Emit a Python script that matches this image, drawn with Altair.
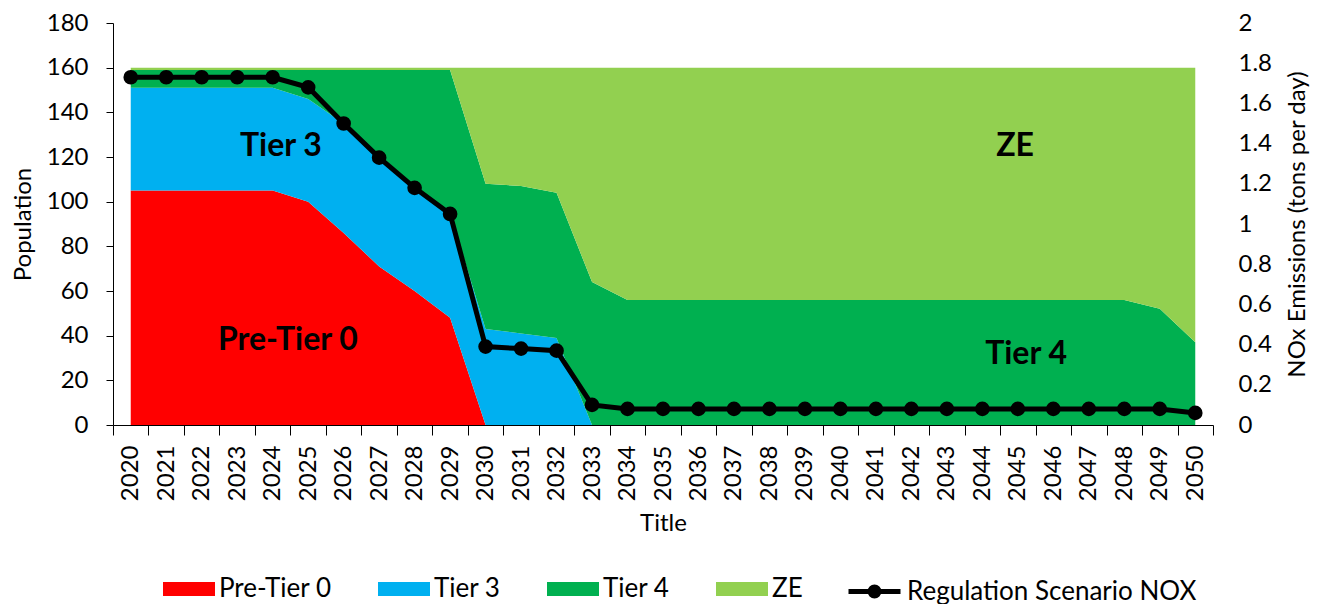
import altair as alt
import pandas as pd

years = [str(y) for y in range(2020, 2051)]

pre_tier0 = [105, 105, 105, 105, 105, 100, 86, 71, 60, 48,
             0, 0, 0, 0, 0, 0, 0, 0, 0, 0,
             0, 0, 0, 0, 0, 0, 0, 0, 0, 0, 0]
tier3 = [46, 46, 46, 46, 46, 46, 49, 50, 47, 47,
         43, 41, 39, 0, 0, 0, 0, 0, 0, 0,
         0, 0, 0, 0, 0, 0, 0, 0, 0, 0, 0]
tier4 = [8, 8, 8, 8, 8, 13, 24, 38, 52, 64,
         65, 66, 65, 64, 56, 56, 56, 56, 56, 56,
         56, 56, 56, 56, 56, 56, 56, 56, 56, 52, 37]
ze = [1, 1, 1, 1, 1, 1, 1, 1, 1, 1,
      52, 53, 56, 96, 104, 104, 104, 104, 104, 104,
      104, 104, 104, 104, 104, 104, 104, 104, 104, 108, 123]
nox = [1.73, 1.73, 1.73, 1.73, 1.73, 1.68, 1.50, 1.33, 1.18, 1.05,
       0.39, 0.38, 0.37, 0.10, 0.08, 0.08, 0.08, 0.08, 0.08, 0.08,
       0.08, 0.08, 0.08, 0.08, 0.08, 0.08, 0.08, 0.08, 0.08, 0.08, 0.06]

series_names = ["Pre-Tier 0", "Tier 3", "Tier 4", "ZE"]
area_colors = ["#FF0000", "#00B0F0", "#00B050", "#92D050"]
line_name = "Regulation Scenario NOX"

label_text = ["Tier 3", "Pre-Tier 0", "ZE", "Tier 4"]
label_year = ["2024", "2024", "2045", "2045"]
label_value = [125, 38, 125, 32]
label_shift = [26, 33, 15, 26]

FONT = "Lato"
FS = 24
LFS = 26

rows = []
for i, (name, vals) in enumerate(zip(series_names, [pre_tier0, tier3, tier4, ze])):
    for yr, v in zip(years, vals):
        rows.append({"year": yr, "series": name, "value": v, "ord": i})
area_df = pd.DataFrame(rows)
line_df = pd.DataFrame({"year": years, "series": line_name, "nox": nox})
lab_df = pd.DataFrame({"year": label_year, "value": label_value, "text": label_text, "shift": label_shift})

RECT = "M-1,-0.27H1V0.27H-1Z"
LINE = "M-1,0H1M-0.17,0A0.17,0.17,0,1,1,0.17,0A0.17,0.17,0,1,1,-0.17,0Z"

x_enc = alt.X(
    "year:O",
    scale=alt.Scale(type="band", paddingInner=0, paddingOuter=0),
    bandPosition=0.5,
    axis=alt.Axis(
        title="Title", tickBand="extent", labelAngle=-90, tickSize=10,
        labelPadding=10, titlePadding=11, domainColor="#000", tickColor="#000",
        labelFontSize=FS, titleFontSize=FS, titleFontWeight="normal",
        labelColor="#000", titleColor="#000", grid=False,
    ),
)

area = alt.Chart(area_df).mark_area(opacity=1).encode(
    x=x_enc,
    y=alt.Y(
        "value:Q", stack="zero",
        scale=alt.Scale(domain=[0, 180], nice=False),
        axis=alt.Axis(
            title="Population", values=list(range(0, 181, 20)), grid=False,
            domainColor="#000", tickColor="#000", tickSize=7, labelPadding=18,
            labelFontSize=FS, titleFontSize=FS, titleFontWeight="normal",
            labelColor="#000", titleColor="#000", titlePadding=11,
        ),
    ),
    color=alt.Color(
        "series:N",
        scale=alt.Scale(domain=series_names, range=area_colors),
        legend=alt.Legend(
            title=None, orient="none", legendX=50, legendY=540,
            direction="horizontal", columns=4, columnPadding=46,
            symbolType=RECT, symbolSize=2704, symbolStrokeWidth=0,
            labelFontSize=LFS, labelFont=FONT, labelColor="#000",
            labelOffset=4, padding=0, labelLimit=500,
        ),
    ),
    order=alt.Order("ord:Q", sort="ascending"),
)

labels = alt.Chart(lab_df).mark_text(
    font=FONT, fontSize=32, fontWeight="bold", color="#000", baseline="middle", align="center"
).encode(
    x=alt.X("year:O"),
    y=alt.Y("value:Q"),
    xOffset=alt.XOffset("shift:Q", scale=None),
    text="text:N",
)

line = alt.Chart(line_df).mark_line(
    strokeWidth=5, point=alt.OverlayMarkDef(size=160, filled=True, fill="#000", opacity=1)
).encode(
    x=alt.X("year:O", bandPosition=0.5),
    y=alt.Y(
        "nox:Q",
        scale=alt.Scale(domain=[0, 2], nice=False),
        axis=alt.Axis(
            title="NOx Emissions (tons per day)", orient="right",
            values=[0, 0.2, 0.4, 0.6, 0.8, 1, 1.2, 1.4, 1.6, 1.8, 2],
            format=".1~f", grid=False, domain=False, ticks=False, labelPadding=25,
            labelFontSize=FS, titleFontSize=FS, titleFontWeight="normal",
            labelColor="#000", titleColor="#000", titleAngle=-90,
            titleBaseline="top", titlePadding=14,
        ),
    ),
    stroke=alt.Stroke(
        "series:N",
        scale=alt.Scale(domain=[line_name], range=["#000000"]),
        legend=alt.Legend(
            title=None, orient="none", legendX=733, legendY=540,
            symbolType=LINE, symbolSize=2704, symbolStrokeWidth=5,
            symbolFillColor="#000", labelFontSize=LFS, labelFont=FONT,
            labelColor="#000", labelOffset=4, padding=0, labelLimit=500,
        ),
    ),
)

chart = alt.layer(alt.layer(area, labels), line).resolve_scale(y="independent").properties(
    width=1100, height=402,
    autosize=alt.AutoSizeParams(type="none"),
    padding={"left": 105, "top": 15, "right": 100, "bottom": 179},
).configure(font=FONT).configure_view(stroke=None)

chart.save("out.html", embed_options={"renderer": "svg", "actions": False})
